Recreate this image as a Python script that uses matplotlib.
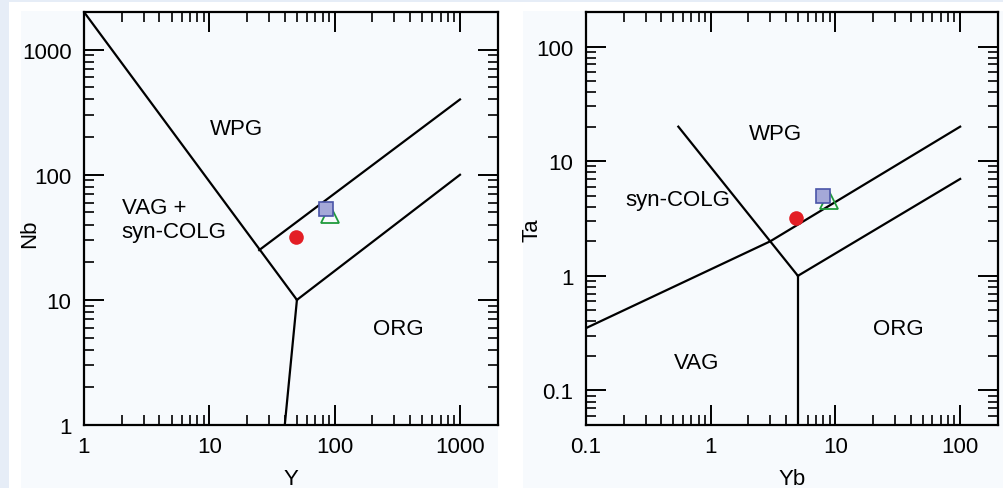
import numpy as np
import matplotlib
matplotlib.use("Agg")
import matplotlib.pyplot as plt
from matplotlib.patches import Rectangle
from matplotlib.ticker import FixedLocator, LogLocator, NullFormatter

plt.rcParams['font.family'] = ['Liberation Sans', 'DejaVu Sans']

# Nb-Y diagram (Pearce et al. 1984)
nby_lines = [
    ([1, 50], [2000, 10]),
    ([50, 40], [10, 1]),
    ([25, 1000], [25, 400]),
    ([50, 1000], [10, 100]),
]
nby_labels = [("WPG", 16.4, 233), ("ORG", 320, 5.9)]
nby_multi = ("VAG +\nsyn-COLG", 2.0, 44)
nby_circle = (49, 32)
nby_square = (85, 53)
nby_triangle = (91, 49)

# Ta-Yb diagram
tayb_lines = [
    ([0.55, 3, 5], [20, 2, 1]),
    ([5, 5], [1, 0.05]),
    ([5, 100], [1, 7]),
    ([0.1, 3, 100], [0.35, 2, 20]),
]
tayb_labels = [("WPG", 3.3, 17.4), ("syn-COLG", 0.54, 4.6),
               ("ORG", 32, 0.35), ("VAG", 0.77, 0.177)]
tayb_circle = (4.8, 3.2)
tayb_square = (8.0, 4.95)
tayb_triangle = (8.9, 4.6)

W, H = 1004, 489
fig = plt.figure(figsize=(W / 100, H / 100), dpi=100)
fig.patch.set_facecolor("white")

# page background bands and panels
fig.patches.append(Rectangle((0, 0), 1, 1, transform=fig.transFigure,
                             facecolor="#e6edf7", edgecolor="none", zorder=-3))
fig.patches.append(Rectangle((9 / W, 0), 1, 1 - 3 / H, transform=fig.transFigure,
                             facecolor="white", edgecolor="none", zorder=-2))
for x0, x1 in [(21, 498), (523, 1004)]:
    fig.patches.append(Rectangle((x0 / W, 0), (x1 - x0) / W, 1 - 12 / H,
                                 transform=fig.transFigure,
                                 facecolor="#f7fafd", edgecolor="none", zorder=-1))


def style_axes(ax, xlim, ylim, xticks, yticks):
    ax.set_xscale("log")
    ax.set_yscale("log")
    ax.set_xlim(*xlim)
    ax.set_ylim(*ylim)
    ax.set_facecolor("none")
    ax.xaxis.set_major_locator(FixedLocator(xticks))
    ax.yaxis.set_major_locator(FixedLocator(yticks))
    ax.set_xticklabels([f"{t:g}" for t in xticks])
    ax.set_yticklabels([f"{t:g}" for t in yticks])
    ax.xaxis.set_minor_locator(LogLocator(base=10, subs=np.arange(2, 10)))
    ax.yaxis.set_minor_locator(LogLocator(base=10, subs=np.arange(2, 10)))
    ax.xaxis.set_minor_formatter(NullFormatter())
    ax.yaxis.set_minor_formatter(NullFormatter())
    ax.tick_params(which="both", direction="in", top=True, right=True,
                   labelsize=16, colors="black")
    ax.tick_params(which="major", length=14.5, width=1.4)
    ax.tick_params(which="minor", length=7.5, width=1.2)
    ax.tick_params(axis="x", which="major", pad=8)
    ax.tick_params(axis="y", which="major", pad=9)
    for sp in ax.spines.values():
        sp.set_linewidth(1.6)


def draw_points(ax, circle, square, triangle):
    ax.plot(*triangle, marker="^", markersize=13, markerfacecolor="none",
            markeredgecolor="#1f9a3c", markeredgewidth=1.3, zorder=3)
    ax.plot(*square, marker="s", markersize=10.5, markerfacecolor="#a4a8d8",
            markeredgecolor="#4a55a8", markeredgewidth=1.2, zorder=4)
    ax.plot(*circle, marker="o", markersize=10.5, color="#e31e25",
            markeredgewidth=0, zorder=5)


ax1 = fig.add_axes([84 / W, 1 - 426 / H, 413.7 / W, 413 / H])
style_axes(ax1, (1, 2000), (1, 2000), [1, 10, 100, 1000], [1, 10, 100, 1000])
for xs, ys in nby_lines:
    ax1.plot(xs, ys, color="black", lw=1.6)
for txt, x, y in nby_labels:
    ax1.text(x, y, txt, ha="center", va="center", fontsize=16)
ax1.text(nby_multi[1], nby_multi[2], nby_multi[0], ha="left", va="center",
         fontsize=16, linespacing=1.15)
draw_points(ax1, nby_circle, nby_square, nby_triangle)
ax1.set_xlabel("Y", fontsize=16)
ax1.set_ylabel("Nb", fontsize=16)
ax1.xaxis.set_label_coords(0.5, -0.105)
ax1.yaxis.set_label_coords(-0.105, 0.465)

ax2 = fig.add_axes([586 / W, 1 - 426 / H, 411.7 / W, 413 / H])
style_axes(ax2, (0.1, 200), (0.05, 200), [0.1, 1, 10, 100], [0.1, 1, 10, 100])
for xs, ys in tayb_lines:
    ax2.plot(xs, ys, color="black", lw=1.6)
for txt, x, y in tayb_labels:
    ax2.text(x, y, txt, ha="center", va="center", fontsize=16)
draw_points(ax2, tayb_circle, tayb_square, tayb_triangle)
ax2.set_xlabel("Yb", fontsize=16)
ax2.set_ylabel("Ta", fontsize=16)
ax2.xaxis.set_label_coords(0.5, -0.105)
ax2.yaxis.set_label_coords(-0.105, 0.475)

fig.savefig("out.png", dpi=100)
